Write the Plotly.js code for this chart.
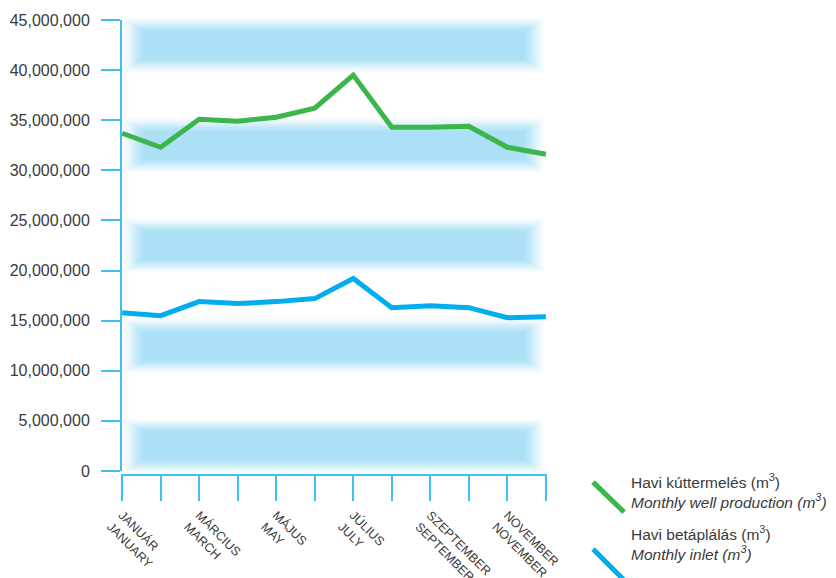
<!DOCTYPE html>
<html>
<head>
<meta charset="utf-8">
<script src="https://cdn.plot.ly/plotly-3.0.1.min.js"></script>
<style>
  html, body { margin: 0; padding: 0; background: #ffffff; }
  #chart { width: 836px; height: 578px; }
</style>
</head>
<body>
<div id="chart"></div>
<script>
// Months (Hungarian / English)
const monthsHu = ['JANUÁR', 'FEBRUÁR', 'MÁRCIUS', 'ÁPRILIS', 'MÁJUS', 'JÚNIUS',
                  'JÚLIUS', 'AUGUSZTUS', 'SZEPTEMBER', 'OKTÓBER', 'NOVEMBER', 'DECEMBER'];
const monthsEn = ['JANUARY', 'FEBRUARY', 'MARCH', 'APRIL', 'MAY', 'JUNE',
                  'JULY', 'AUGUST', 'SEPTEMBER', 'OCTOBER', 'NOVEMBER', 'DECEMBER'];

// Monthly volumes, m3
const wellProduction = [33700000, 32300000, 35100000, 34900000, 35300000, 36200000,
                        39500000, 34300000, 34300000, 34400000, 32300000, 31600000];
const inlet = [15800000, 15500000, 16900000, 16700000, 16900000, 17200000,
               19200000, 16300000, 16500000, 16300000, 15300000, 15400000];

// Y axis ticks
const yTicks = [0, 5000000, 10000000, 15000000, 20000000, 25000000,
                30000000, 35000000, 40000000, 45000000];

// Legend texts
const seriesNames = [
  'Havi kúttermelés (m<sup>3</sup>)<br><i>Monthly well production (m<sup>3</sup>)</i>',
  'Havi betáplálás (m<sup>3</sup>)<br><i>Monthly inlet (m<sup>3</sup>)</i>'
];

const green = '#3cb54a';
const blue = '#00aeef';
const axisBlue = '#3fc0ef';
const textGrey = '#3a3a3a';
const font = '"Liberation Sans", Arial, Helvetica, sans-serif';

// plot box in pixels
const W = 836, H = 578;
const M = { l: 121, r: 289, t: 20, b: 104 };
const plotW = W - M.l - M.r, plotH = H - M.t - M.b;
const yRange = [-300000, 45000000];

// month positions along the x axis
const monthPos = monthsHu.map((m, i) => i);
// every other month carries a two-line label; all months get a tick
const labelPos = monthPos.filter(i => i % 2 === 0);
const labelText = labelPos.map(i => monthsHu[i] + '<br>' + monthsEn[i]);
const plainPos = monthPos.filter(i => i % 2 === 1);

// soft horizontal bands on alternate tick intervals (0-5M, 10-15M, ...),
// built from nested rectangles stepping from white to the band colour
const shapes = [];
const bandCore = [172, 224, 246];
const steps = 20;
const fadeX = 25;          // px, horizontal fade width
const fadeY = 17;          // px, vertical fade width
const spillY = 4;          // px, fade reaching beyond the tick line
const toPaperY = v => (v - yRange[0]) / (yRange[1] - yRange[0]);
for (let b = 0; b + 1 < yTicks.length; b += 2) {
  const lo = toPaperY(yTicks[b]), hi = toPaperY(yTicks[b + 1]);
  for (let i = 0; i < steps; i++) {
    const f = i / (steps - 1);
    const t = (i + 1) / steps;
    const s = t * t * (3 - 2 * t);
    const c = bandCore.map(ch => Math.round(255 + (ch - 255) * s));
    const dy = (spillY - f * fadeY) / plotH;
    shapes.push({
      type: 'rect', layer: 'below',
      xref: 'paper', yref: 'paper',
      x0: f * fadeX / plotW, x1: 1 - f * fadeX / plotW,
      y0: lo - dy, y1: hi + dy,
      fillcolor: 'rgb(' + c.join(',') + ')', line: { width: 0 }
    });
  }
}

// vertical axis line, from zero to the top tick
shapes.push({
  type: 'line', layer: 'above',
  xref: 'paper', yref: 'y',
  x0: 0, x1: 0, y0: 0, y1: yTicks[yTicks.length - 1],
  line: { color: axisBlue, width: 2 }
});

// legend: slanted line keys
const legendKeys = [
  { color: green, y0: -0.018, y1: -0.084 },
  { color: blue, y0: -0.165, y1: -0.234 }
];
legendKeys.forEach(k => {
  shapes.push({
    type: 'line', xref: 'paper', yref: 'paper',
    x0: 1.108, x1: 1.181, y0: k.y0, y1: k.y1,
    line: { color: k.color, width: 5 }
  });
});

const annotations = [
  { y: -0.038, text: seriesNames[0] },
  { y: -0.152, text: seriesNames[1] }
].map(a => ({
  xref: 'paper', yref: 'paper', x: 1.193, y: a.y,
  xanchor: 'left', yanchor: 'middle', align: 'left',
  showarrow: false, text: a.text,
  font: { family: font, size: 15.5, color: textGrey }
}));

const traces = [
  {
    x: monthPos, y: wellProduction, type: 'scatter', mode: 'lines',
    name: 'Havi kúttermelés', line: { color: green, width: 5 }
  },
  {
    x: monthPos, y: inlet, type: 'scatter', mode: 'lines',
    name: 'Havi betáplálás', line: { color: blue, width: 5 }
  }
];

const layout = {
  width: W, height: H,
  margin: M,
  paper_bgcolor: '#ffffff', plot_bgcolor: 'rgba(0,0,0,0)',
  showlegend: false,
  font: { family: font, color: textGrey },
  xaxis: {
    type: 'linear',
    range: [-0.03, 11.03],
    tickmode: 'array', tickvals: labelPos, ticktext: labelText,
    tickangle: 45,
    ticks: 'outside', ticklen: 25, tickwidth: 2, tickcolor: axisBlue,
    ticklabelstandoff: 2,
    minor: {
      tickmode: 'array', tickvals: plainPos,
      ticks: 'outside', ticklen: 25, tickwidth: 2, tickcolor: axisBlue,
      showgrid: false
    },
    showline: true, linecolor: axisBlue, linewidth: 2,
    showgrid: false, zeroline: false,
    tickfont: { family: font, size: 12.5, color: textGrey }
  },
  yaxis: {
    range: yRange,
    tickmode: 'array', tickvals: yTicks, tickformat: ',d',
    ticks: 'outside', ticklen: 19, tickwidth: 2, tickcolor: axisBlue,
    ticklabelstandoff: 8,
    showline: false, showgrid: false, zeroline: false,
    tickfont: { family: font, size: 16, color: textGrey }
  },
  shapes: shapes,
  annotations: annotations
};

Plotly.newPlot('chart', traces, layout, { staticPlot: true, displayModeBar: false });
</script>
</body>
</html>
